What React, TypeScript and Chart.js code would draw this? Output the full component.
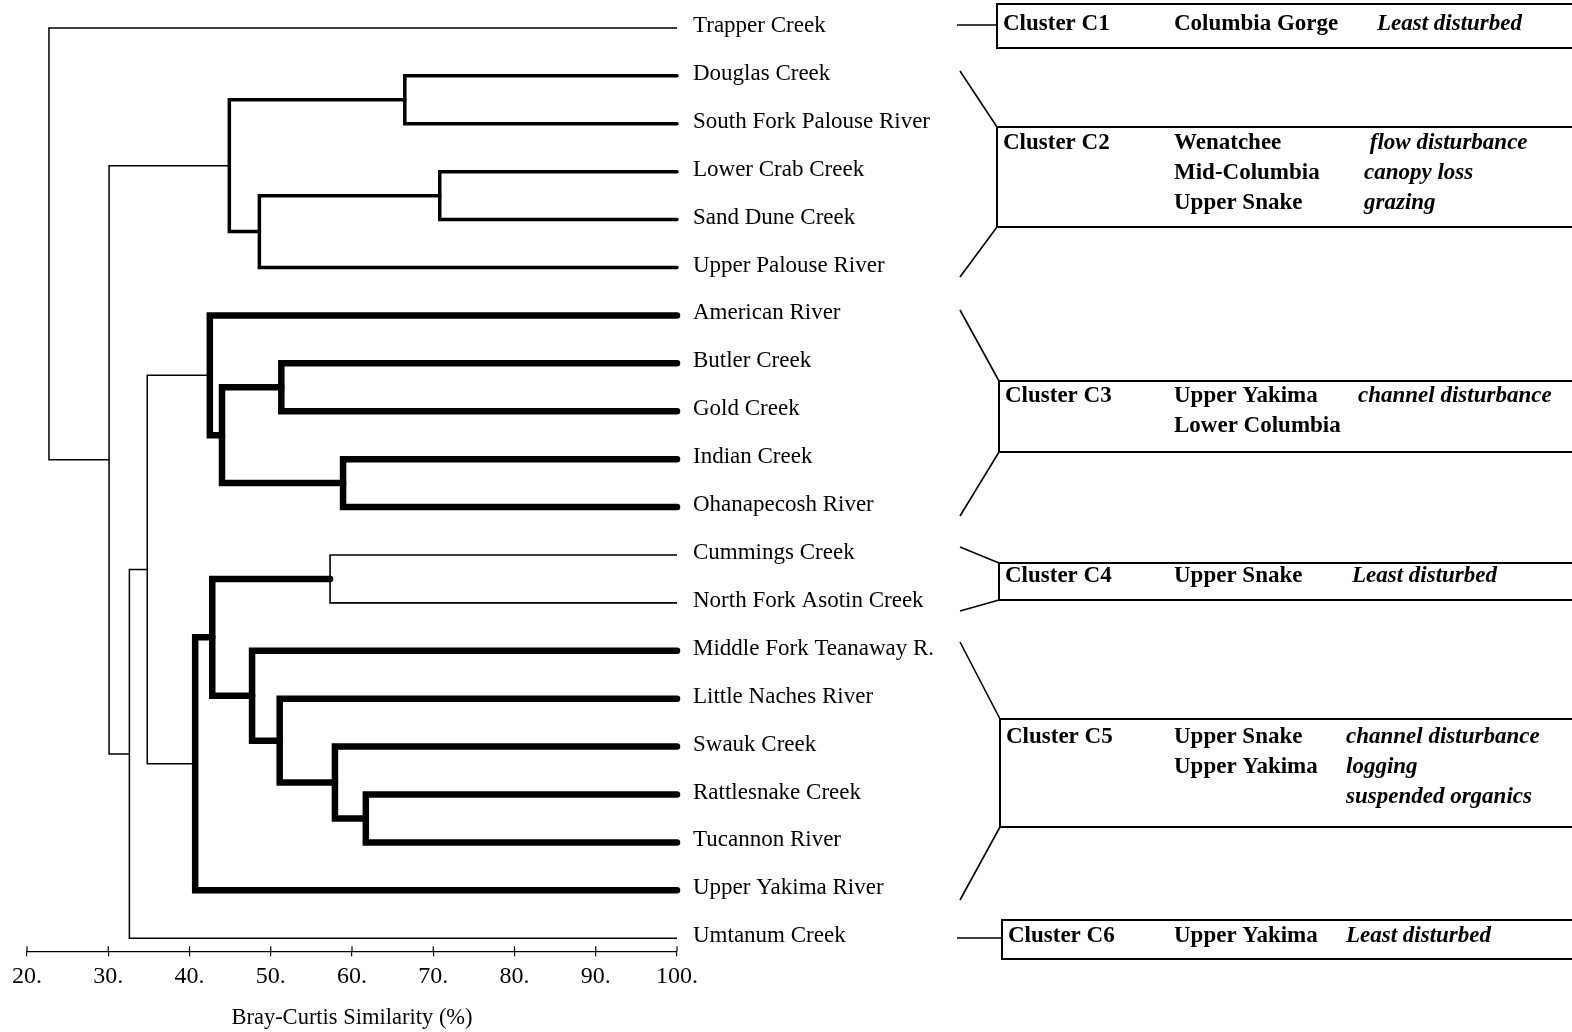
import React, { useEffect, useRef } from 'react';
import { Chart, registerables } from 'chart.js';

Chart.register(...registerables);

// ---------- DATA ----------
const leafNames = [
  'Trapper Creek',
  'Douglas Creek',
  'South Fork Palouse River',
  'Lower Crab Creek',
  'Sand Dune Creek',
  'Upper Palouse River',
  'American River',
  'Butler Creek',
  'Gold Creek',
  'Indian Creek',
  'Ohanapecosh River',
  'Cummings Creek',
  'North Fork Asotin Creek',
  'Middle Fork Teanaway R.',
  'Little Naches River',
  'Swauk Creek',
  'Rattlesnake Creek',
  'Tucannon River',
  'Upper Yakima River',
  'Umtanum Creek',
];

// merges: node id = leafNames.length + merge index
const mergeLeft = [1, 3, 21, 20, 7, 9, 24, 6, 11, 16, 15, 14, 13, 28, 33, 27, 35, 23, 0];
const mergeRight = [2, 4, 5, 22, 8, 10, 25, 26, 12, 17, 29, 30, 31, 32, 18, 34, 19, 36, 37];
const mergeSimilarity = [66.5, 70.8, 48.6, 44.9, 51.3, 58.9, 44.0, 42.5, 57.3, 61.7, 57.9, 51.1, 47.7, 42.8, 40.7, 34.8, 32.6, 30.1, 22.7];
const mergeGroup = ['C2', 'C2', 'C2', 'C2', 'C3', 'C3', 'C3', 'C3', 'C4', 'C5', 'C5', 'C5', 'C5', 'C5', 'C5', 'link', 'link', 'link', 'link'];

const leafSimilarity = 100;
const xTicks = [20, 30, 40, 50, 60, 70, 80, 90, 100];
const xTitle = 'Bray-Curtis Similarity (%)';

const clusterNames = ['Cluster C1', 'Cluster C2', 'Cluster C3', 'Cluster C4', 'Cluster C5', 'Cluster C6'];
const clusterRegions = [
  ['Columbia Gorge'],
  ['Wenatchee', 'Mid-Columbia', 'Upper Snake'],
  ['Upper Yakima', 'Lower Columbia'],
  ['Upper Snake'],
  ['Upper Snake', 'Upper Yakima'],
  ['Upper Yakima'],
];
const clusterDisturbance = [
  ['Least disturbed'],
  [' flow disturbance', 'canopy loss', 'grazing'],
  ['channel disturbance'],
  ['Least disturbed'],
  ['channel disturbance', 'logging', 'suspended organics'],
  ['Least disturbed'],
];

// ---------- STYLE / LAYOUT ----------
const FONT = '"Liberation Serif", "Times New Roman", serif';
const groupWidth: Record<string, number> = { C2: 3.5, C3: 6.5, C5: 6.5, C4: 1.6, link: 1.5 };

// cluster box layout (pixels)
const boxLayout = [
  { top: 4, bottom: 48, left: 997, conn: 'h', cy: 25, textY: 24, disX: 1377 },
  { top: 127, bottom: 227, left: 997, conn: 'd', c1: 71, c2: 277, textY: 143, disX: 1364 },
  { top: 381, bottom: 452, left: 999, conn: 'd', c1: 310, c2: 516, textY: 396, disX: 1358 },
  { top: 563, bottom: 600, left: 999, conn: 'd', c1: 547, c2: 611, textY: 576, disX: 1352 },
  { top: 719, bottom: 827, left: 1000, conn: 'd', c1: 642, c2: 900, textY: 737, disX: 1346 },
  { top: 920, bottom: 959, left: 1002, conn: 'h', cy: 938, textY: 936, disX: 1346 },
];

function buildTree() {
  const n = leafNames.length;
  const xs: number[] = [];
  const ys: number[] = [];
  for (let i = 0; i < n; i++) {
    xs.push(leafSimilarity);
    ys.push(i);
  }
  for (let k = 0; k < mergeLeft.length; k++) {
    xs.push(mergeSimilarity[k]);
    ys.push((ys[mergeLeft[k]] + ys[mergeRight[k]]) / 2);
  }
  return { xs, ys };
}

const overlayPlugin = {
  id: 'overlay',
  afterDraw(chart: any) {
    const ctx: CanvasRenderingContext2D = chart.ctx;
    const xs = chart.scales.x;
    const ys = chart.scales.y;
    const area = chart.chartArea;
    ctx.save();
    // upward part of tick marks
    ctx.strokeStyle = '#000';
    ctx.lineWidth = 1.2;
    xTicks.forEach((v) => {
      const px = xs.getPixelForValue(v);
      ctx.beginPath();
      ctx.moveTo(px, area.bottom - 5);
      ctx.lineTo(px, area.bottom);
      ctx.stroke();
    });
    // leaf labels
    ctx.fillStyle = '#000';
    ctx.font = `23px ${FONT}`;
    ctx.textBaseline = 'middle';
    ctx.textAlign = 'left';
    leafNames.forEach((name, i) => {
      ctx.fillText(name, area.right + 16, ys.getPixelForValue(i) - 2);
    });
    // cluster boxes
    const lineGap = 30;
    clusterNames.forEach((cn, i) => {
      const b: any = boxLayout[i];
      ctx.strokeStyle = '#000';
      ctx.lineWidth = 2;
      ctx.beginPath();
      ctx.moveTo(1580, b.top);
      ctx.lineTo(b.left, b.top);
      ctx.lineTo(b.left, b.bottom);
      ctx.lineTo(1580, b.bottom);
      ctx.stroke();
      ctx.lineWidth = 1.6;
      ctx.beginPath();
      if (b.conn === 'h') {
        ctx.moveTo(957, b.cy);
        ctx.lineTo(b.left, b.cy);
      } else {
        ctx.moveTo(960, b.c1);
        ctx.lineTo(b.left, b.top);
        ctx.moveTo(b.left, b.bottom);
        ctx.lineTo(960, b.c2);
      }
      ctx.stroke();
      ctx.fillStyle = '#000';
      ctx.font = `bold 23px ${FONT}`;
      ctx.fillText(cn, b.left + 6, b.textY);
      clusterRegions[i].forEach((r, j) => ctx.fillText(r, 1174, b.textY + j * lineGap));
      ctx.font = `italic bold 23px ${FONT}`;
      clusterDisturbance[i].forEach((d, j) => ctx.fillText(d, b.disX, b.textY + j * lineGap));
    });
    ctx.restore();
  },
};

export default function App() {
  const ref = useRef<HTMLCanvasElement>(null);
  useEffect(() => {
    const { xs, ys } = buildTree();
    const datasets = mergeLeft.map((l, k) => {
      const r = mergeRight[k];
      const s = mergeSimilarity[k];
      const w = groupWidth[mergeGroup[k]];
      return {
        label: `merge ${k}`,
        data: [
          { x: xs[l], y: ys[l] },
          { x: s, y: ys[l] },
          { x: s, y: ys[r] },
          { x: xs[r], y: ys[r] },
        ],
        showLine: true,
        borderColor: '#000',
        backgroundColor: '#000',
        borderWidth: w,
        borderCapStyle: w > 3 ? 'round' : 'butt',
        borderJoinStyle: 'miter',
        pointRadius: 0,
        pointHoverRadius: 0,
        tension: 0,
        clip: false,
      };
    });
    Chart.defaults.font.family = FONT;
    Chart.defaults.color = '#000';
    const chart = new Chart(ref.current!, {
      type: 'scatter',
      data: { datasets: datasets as any },
      options: {
        animation: false,
        responsive: false,
        devicePixelRatio: 1,
        layout: { padding: { left: 27, right: 895, top: 4, bottom: 0 } },
        plugins: { legend: { display: false }, tooltip: { enabled: false } },
        scales: {
          x: {
            type: 'linear',
            min: 20,
            max: 100,
            afterBuildTicks: (axis: any) => {
              axis.ticks = xTicks.map((v) => ({ value: v }));
            },
            ticks: {
              callback: (v: any) => `${v}.`,
              font: { size: 24, family: FONT },
              color: '#000',
              padding: 6,
              maxRotation: 0,
              autoSkip: false,
            },
            grid: {
              drawOnChartArea: false,
              drawTicks: true,
              tickLength: 5,
              color: '#000',
              lineWidth: 1.2,
            },
            border: { display: true, color: '#000', width: 1.2 },
            title: {
              display: true,
              text: xTitle,
              font: { size: 22.5, family: FONT },
              color: '#000',
              padding: { top: 8, bottom: 0 },
            },
          },
          y: {
            type: 'linear',
            reverse: true,
            min: -0.5,
            max: 19.27,
            display: false,
          },
        },
      },
      plugins: [overlayPlugin],
    });
    return () => chart.destroy();
  }, []);
  return (
    <div style={{ position: 'absolute', left: 0, top: 0, width: 1572, height: 1032, background: '#fff' }}>
      <canvas ref={ref} width={1572} height={1032} style={{ display: 'block' }} />
    </div>
  );
}
